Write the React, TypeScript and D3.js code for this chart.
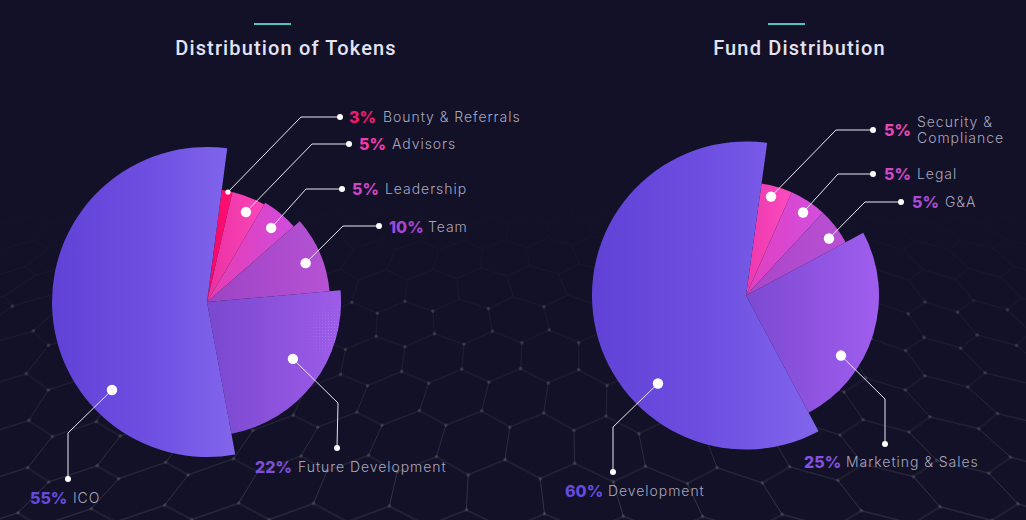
import { useMemo } from 'react';
import * as d3 from 'd3';

const WIDTH = 1026;
const HEIGHT = 520;
const LABEL_FONT = 'Inter, "Open Sans", sans-serif';
const TITLE_FONT = 'Roboto, "Liberation Sans", sans-serif';

const tokenTitle = 'Distribution of Tokens';
const tokenLabels = ['Bounty & Referrals', 'Advisors', 'Leadership', 'Team', 'Future Development', 'ICO'];
const tokenValues = [3, 5, 5, 10, 22, 55];

const fundTitle = 'Fund Distribution';
const fundLabels = ['Security &|Compliance', 'Legal', 'G&A', 'Marketing & Sales', 'Development'];
const fundValues = [5, 5, 5, 25, 60];

interface Slice {
	radius: number;
	grad: string[];
	pct: string;
	pctX: number;
	labelX: number;
	textY: number;
	dot: [number, number]; // angle in degrees, radius
	dotR: number;
	elbow: [number, number];
	end: [number, number];
}

interface ChartLayout {
	id: string;
	title: string;
	labels: string[];
	values: number[];
	cx: number;
	cy: number;
	titleX: number;
	barX: number;
	startDeg: number;
	nudges: number[]; // the slices in the picture are not cut exactly to scale
	slices: Slice[];
}

const tokenChart: ChartLayout = {
	id: 'tok',
	title: tokenTitle,
	labels: tokenLabels,
	values: tokenValues,
	cx: 207,
	cy: 302,
	titleX: 286,
	barX: 254,
	startDeg: 7.5,
	nudges: [0, -5.3, -5.9, -5.3, -5.3, 0, 0],
	slices: [
		{ radius: 113, grad: ['#f0086a', '#ff1070'], pct: '#ee1a70', pctX: 349, labelX: 383, textY: 117, dot: [10.8, 112], dotR: 2.6, elbow: [301, 117], end: [340, 117] },
		{ radius: 113, grad: ['#ea30a0', '#fb48bb'], pct: '#ee3cae', pctX: 359, labelX: 392, textY: 144, dot: [23.4, 98], dotR: 5.2, elbow: [312, 144], end: [349, 144] },
		{ radius: 115, grad: ['#e83cb0', '#cf4ddd'], pct: '#cf45c2', pctX: 352, labelX: 385, textY: 189, dot: [40.9, 98], dotR: 5.2, elbow: [306, 189], end: [342, 189] },
		{ radius: 123, grad: ['#9c44c4', '#b652d4'], pct: '#a347d2', pctX: 389, labelX: 428, textY: 227, dot: [68.5, 106], dotR: 5.2, elbow: [343, 226], end: [379, 226] },
		{ radius: 134, grad: ['#7a48d0', '#9d5ce8'], pct: '#7c4fd6', pctX: 255, labelX: 298, textY: 467, dot: [123.5, 103], dotR: 5.2, elbow: [338, 403], end: [337, 448] },
		{ radius: 155, grad: ['#6142d6', '#6d4ee1', '#8166ec'], pct: '#654ade', pctX: 30, labelX: 73, textY: 498, dot: [227.2, 129.5], dotR: 5.2, elbow: [68, 433], end: [68, 479] },
	],
};

const fundChart: ChartLayout = {
	id: 'fund',
	title: fundTitle,
	labels: fundLabels,
	values: fundValues,
	cx: 746,
	cy: 295.5,
	titleX: 799.5,
	barX: 768,
	startDeg: 7.9,
	nudges: [0, -2, -1, 0, 0, 0],
	slices: [
		{ radius: 113, grad: ['#ec38ad', '#fb4cbf'], pct: '#e648b6', pctX: 884, labelX: 917, textY: 130, dot: [14.2, 102], dotR: 5.2, elbow: [836, 130], end: [873, 130] },
		{ radius: 113, grad: ['#e23fbf', '#d14fdf'], pct: '#cf48c6', pctX: 884, labelX: 917, textY: 174, dot: [34.5, 100.7], dotR: 5.2, elbow: [838, 174], end: [873, 174] },
		{ radius: 113, grad: ['#a845c8', '#ba50d4'], pct: '#a84cd4', pctX: 912, labelX: 945, textY: 202, dot: [55.5, 100.7], dotR: 5.2, elbow: [865, 202], end: [901, 202] },
		{ radius: 133, grad: ['#7c49d2', '#a05eee'], pct: '#8450de', pctX: 804, labelX: 846, textY: 462, dot: [122.3, 112.4], dotR: 5.2, elbow: [885, 399], end: [885, 444] },
		{ radius: 154, grad: ['#6142d6', '#6d4ee1', '#8166ec'], pct: '#654ade', pctX: 565, labelX: 608, textY: 491, dot: [225, 124.5], dotR: 5.2, elbow: [613, 427], end: [613, 472] },
	],
};

const rad = (deg: number) => (deg * Math.PI) / 180;

// faint hexagon floor behind the charts, bent a little so it looks like a surface
const buildMesh = () => {
	const project = (u: number, v: number): [number, number] => {
		const y = 172 + 3.6 * Math.pow(v, 1.62);
		const scale = (74 * (y + 130)) / 620;
		const x = 513 + u * scale + 9 * Math.sin(v * 0.7 + u * 0.35);
		return [x, y + 7 * Math.sin(u * 0.6 + v * 0.4) * (y / 520)];
	};
	const path = d3.path();
	const nodes: [number, number][] = [];
	const corners: [number, number][] = [
		[0, -1],
		[0.5, -0.5],
		[0.5, 0.5],
		[0, 1],
		[-0.5, 0.5],
		[-0.5, -0.5],
	];
	for (let row = 0; row < 17; row++) {
		const v0 = 1 + row * 1.5;
		for (let col = -14; col <= 14; col++) {
			const u0 = col + (row % 2 ? 0.5 : 0);
			corners.forEach(([du, dv], i) => {
				const p = project(u0 + du, v0 + dv * 0.98);
				if (i === 0) path.moveTo(p[0], p[1]);
				else path.lineTo(p[0], p[1]);
				nodes.push(p);
			});
			path.closePath();
		}
	}
	return { d: path.toString(), nodes: nodes.filter((n) => n[1] > 300 && n[1] < 525 && n[0] > -5 && n[0] < 1030) };
};

const Pie = ({ chart }: { chart: ChartLayout }) => {
	const { id, values, labels, slices, cx, cy, nudges, startDeg, title, titleX, barX } = chart;
	const startAngle = rad(startDeg);
	const arcs = d3
		.pie<number>()
		.sort(null)
		.startAngle(startAngle)
		.endAngle(startAngle + 2 * Math.PI)(values);
	const arc = d3.arc<any>().innerRadius(0);
	const leader = d3.line();

	return (
		<g>
			<rect x={barX} y={23} width={37} height={2} fill="#4fc4c4" />
			<text
				x={titleX}
				y={55}
				textAnchor="middle"
				fontFamily={TITLE_FONT}
				fontSize={20}
				fontWeight={500}
				letterSpacing={1.15}
				fill="#e4e3f4"
			>
				{title}
			</text>
			<defs>
				{slices.map((s, i) => (
					<linearGradient key={i} id={`${id}-g${i}`} x1="0" x2="1" y1="0" y2="0">
						{s.grad.map((c, j) => (
							<stop key={j} offset={j / (s.grad.length - 1)} stopColor={c} />
						))}
					</linearGradient>
				))}
			</defs>
			<g transform={`translate(${cx},${cy})`}>
				{arcs.map((a, i) => {
					const d = arc({
						startAngle: a.startAngle + rad(nudges[i]),
						endAngle: a.endAngle + rad(nudges[i + 1]),
						outerRadius: slices[i].radius,
					}) as string;
					return (
						<g key={i}>
							<path d={d} fill={`url(#${id}-g${i})`} />
							{labels[i] === 'Future Development' && (
								<path d={d} fill="url(#stipple)" mask="url(#stippleMask)" />
							)}
						</g>
					);
				})}
			</g>
			{slices.map((s, i) => {
				const [px, py] = d3.pointRadial(rad(s.dot[0]), s.dot[1]);
				const dot: [number, number] = [cx + px, cy + py];
				const lines = labels[i].split('|');
				return (
					<g key={i}>
						<path d={leader([dot, s.elbow, s.end]) as string} fill="none" stroke="#e8e6f2" strokeWidth={1} />
						<circle cx={dot[0]} cy={dot[1]} r={s.dotR} fill="#fff" />
						<circle cx={s.end[0]} cy={s.end[1]} r={3} fill="#fff" />
						<text
							x={s.pctX}
							y={s.textY + 6}
							fontFamily={LABEL_FONT}
							fontSize={16}
							fontWeight={800}
							fill={s.pct}
						>
							{values[i]}%
						</text>
						{lines.map((line, j) => (
							<text
								key={j}
								x={s.labelX}
								y={s.textY + 5 + (j - (lines.length - 1) / 2) * 16.5}
								fontFamily={LABEL_FONT}
								fontSize={14}
								fontWeight={300}
								letterSpacing={0.95}
								fill="#a9a7bf"
							>
								{line}
							</text>
						))}
					</g>
				);
			})}
		</g>
	);
};

export default function App() {
	const mesh = useMemo(buildMesh, []);
	return (
		<svg
			width={WIDTH}
			height={HEIGHT}
			viewBox={`0 0 ${WIDTH} ${HEIGHT}`}
			style={{ position: 'absolute', left: 0, top: 0, background: '#121127' }}
		>
			<defs>
				<linearGradient id="meshFade" x1="0" x2="0" y1="190" y2="520" gradientUnits="userSpaceOnUse">
					<stop offset="0" stopColor="#fff" stopOpacity={0} />
					<stop offset="0.45" stopColor="#fff" stopOpacity={0.025} />
					<stop offset="1" stopColor="#fff" stopOpacity={0.075} />
				</linearGradient>
				<pattern id="stipple" width={3} height={3} patternUnits="userSpaceOnUse">
					<circle cx={1.5} cy={1.5} r={0.6} fill="#c9a8f5" />
				</pattern>
				<radialGradient id="stippleFade" cx={125} cy={30} r={30} gradientUnits="userSpaceOnUse">
					<stop offset="0" stopColor="#fff" stopOpacity={0.55} />
					<stop offset="1" stopColor="#fff" stopOpacity={0} />
				</radialGradient>
				<mask id="stippleMask" maskUnits="userSpaceOnUse" x={-200} y={-200} width={400} height={400}>
					<rect x={-200} y={-200} width={400} height={400} fill="url(#stippleFade)" />
				</mask>
			</defs>
			<path d={mesh.d} fill="none" stroke="url(#meshFade)" strokeWidth={1} />
			{mesh.nodes.map((n, i) => (
				<circle key={i} cx={n[0]} cy={n[1]} r={1.8} fill="#fff" opacity={0.05} />
			))}
			<Pie chart={tokenChart} />
			<Pie chart={fundChart} />
		</svg>
	);
}
